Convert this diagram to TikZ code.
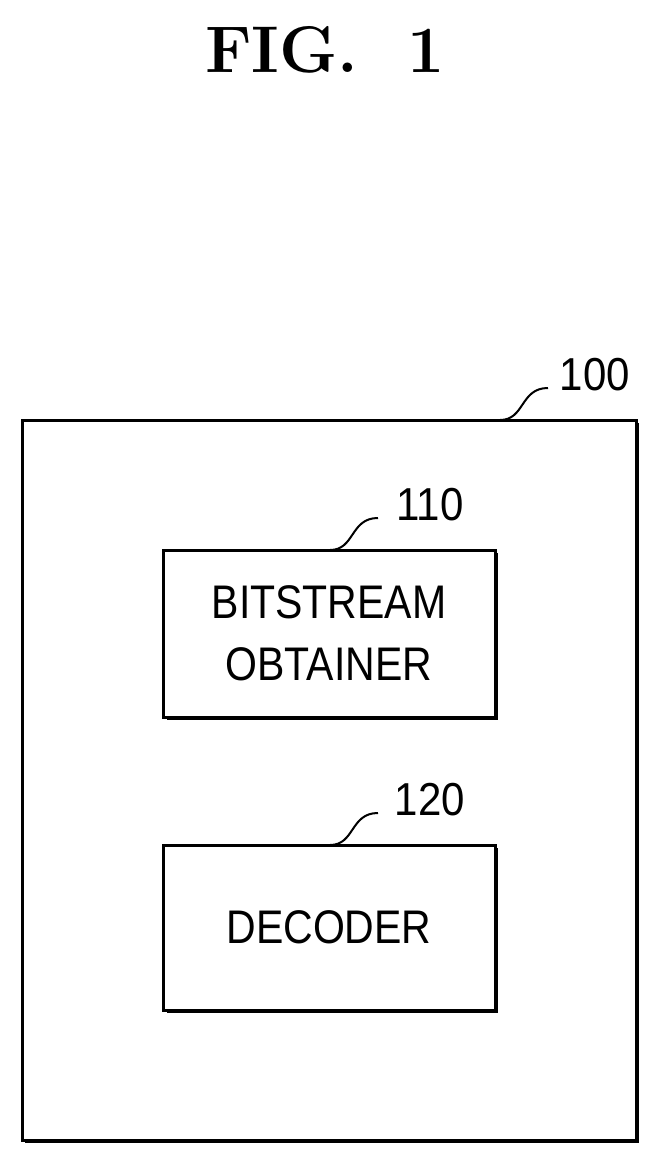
\documentclass[tikz,border=0pt]{standalone}
\usepackage{fontspec}
\setsansfont{Liberation Sans}
\begin{document}
\begin{tikzpicture}[x=1pt,y=-1pt,
  box/.style={draw,line width=3pt,inner sep=0pt},
  lbl/.style={font=\sffamily\fontsize{42}{44}\selectfont,yscale=1.1},
  txt/.style={font=\sffamily\fontsize{41}{54}\selectfont,align=center,yscale=1.15},
  lead/.style={line width=2pt}]
\useasboundingbox (0,0) rectangle (662,1161);
\node[font=\bfseries\fontsize{66}{70}\selectfont] (title) at (325,50) {FIG.\ \ 1};
\draw[box] (22,420) rectangle (636,1140);
\draw[line width=1.2pt] (25,1142) -- (638,1142) -- (638,423);
\node[draw,line width=3pt,minimum width=332pt,minimum height=167pt] (b110) at (329,633.5) {};
\node[txt] at (b110) {BITSTREAM\\OBTAINER};
\node[draw,line width=3pt,minimum width=332pt,minimum height=165pt] (b120) at (329,927.5) {};
\node[txt] at (b120) {DECODER};
\draw[line width=1.2pt] (167,719) -- (497,719) -- (497,553);
\draw[line width=1.2pt] (167,1012) -- (497,1012) -- (497,848);
\node[lbl] (l100) at (595,375) {100};
\node[lbl] (l110) at (430,505) {110};
\node[lbl] (l120) at (430,800) {120};
\coordinate (c100) at (500,420);
\coordinate (c110) at (330,550);
\coordinate (c120) at (330,845);
\draw[lead] (c100) .. controls (525,420) and (520,388) .. (548,388);
\draw[lead] (c110) .. controls (355,550) and (350,518) .. (378,518);
\draw[lead] (c120) .. controls (355,845) and (350,813) .. (378,813);
\end{tikzpicture}
\end{document}
